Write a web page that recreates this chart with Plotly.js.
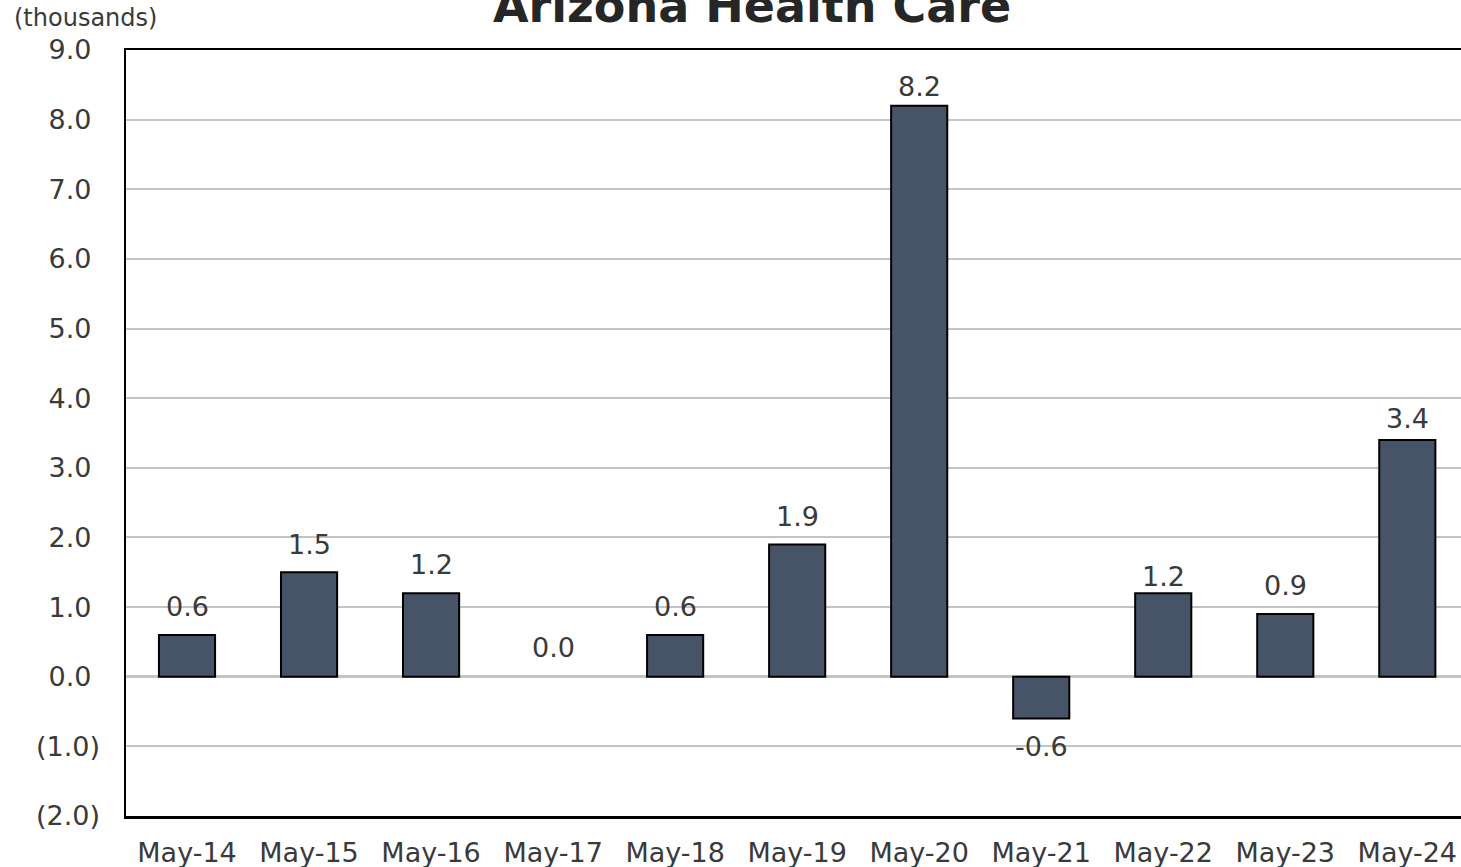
<!DOCTYPE html>
<html>
<head>
<meta charset="utf-8">
<script src="https://cdn.plot.ly/plotly-3.0.1.min.js"></script>
<style>html,body{margin:0;padding:0;background:#fff;}#chart{width:1461px;height:867px;}</style>
</head>
<body>
<div id="chart"></div>
<script>
const categories = ["May-14","May-15","May-16","May-17","May-18","May-19","May-20","May-21","May-22","May-23","May-24"];
const values = [0.6, 1.5, 1.2, 0.0, 0.6, 1.9, 8.2, -0.6, 1.2, 0.9, 3.4];
const yTickVals = [9, 8, 7, 6, 5, 4, 3, 2, 1, 0, -1, -2];
const yTickText = ["9.0","8.0","7.0","6.0","5.0","4.0","3.0","2.0","1.0","0.0","(1.0)","(2.0)"];
const chartTitle = "Arizona Health Care";
const unitLabel = "(thousands)";

// label placement style (pixel distance from bar end to label centre)
const labelGapPx = [29, 29, 30, 30, 29, 29, 20, 26, 18, 30, 22];

const NB = "\u00a0";
const font = "DejaVu Sans, Verdana, sans-serif";
const textColor = "#3a3a3a";

const trace = {
  type: "bar",
  x: categories,
  y: values,
  width: 0.46,
  marker: {color: "#475366", line: {color: "#000000", width: values.map(v => v === 0 ? 0 : 2)}},
  hoverinfo: "x+y"
};

const labelAnnotations = values.map((v, i) => ({
  text: v.toFixed(1),
  x: categories[i], y: v, xref: "x", yref: "y",
  xanchor: "center", yanchor: "middle", showarrow: false,
  yshift: v < 0 ? -(labelGapPx[i] + 2) : (labelGapPx[i] - 1),
  font: {family: font, size: 27, color: textColor}
}));

const layout = {
  width: 1461,
  height: 867,
  margin: {l: 126, r: 0, t: 50, b: 51, pad: 0},
  paper_bgcolor: "#ffffff",
  plot_bgcolor: "#ffffff",
  showlegend: false,
  font: {family: font, color: textColor},
  xaxis: {
    type: "category",
    range: [-0.5, 10.44],
    showline: true, mirror: true, linecolor: "#000000", linewidth: 2.5,
    showgrid: false, zeroline: false,
    ticks: "outside", ticklen: 11, tickcolor: "rgba(0,0,0,0)",
    tickfont: {family: font, size: 27, color: textColor},
    fixedrange: true
  },
  yaxis: {
    range: [-2, 9],
    tickvals: yTickVals,
    ticktext: yTickText.map(t => t.startsWith("(") ? t : t + NB),
    showline: true, mirror: false, linecolor: "#000000", linewidth: 2.5,
    showgrid: true, gridcolor: "#c4c4c4", gridwidth: 2,
    zeroline: true, zerolinecolor: "#c4c4c4", zerolinewidth: 2.5,
    ticks: "outside", ticklen: 18, tickcolor: "rgba(0,0,0,0)",
    tickfont: {family: font, size: 27, color: textColor},
    fixedrange: true
  },
  annotations: [
    {text: "<b>" + chartTitle + "</b>", xref: "paper", yref: "paper",
     x: 0.469, y: 1.057, xanchor: "center", yanchor: "middle", showarrow: false,
     font: {family: font, size: 46, color: "#262626"}},
    {text: unitLabel, xref: "paper", yref: "paper",
     x: -0.0854, y: 1.042, xanchor: "left", yanchor: "middle", showarrow: false,
     font: {family: font, size: 24, color: textColor}}
  ].concat(labelAnnotations)
};

Plotly.newPlot("chart", [trace], layout, {displayModeBar: false, staticPlot: true});
</script>
</body>
</html>
